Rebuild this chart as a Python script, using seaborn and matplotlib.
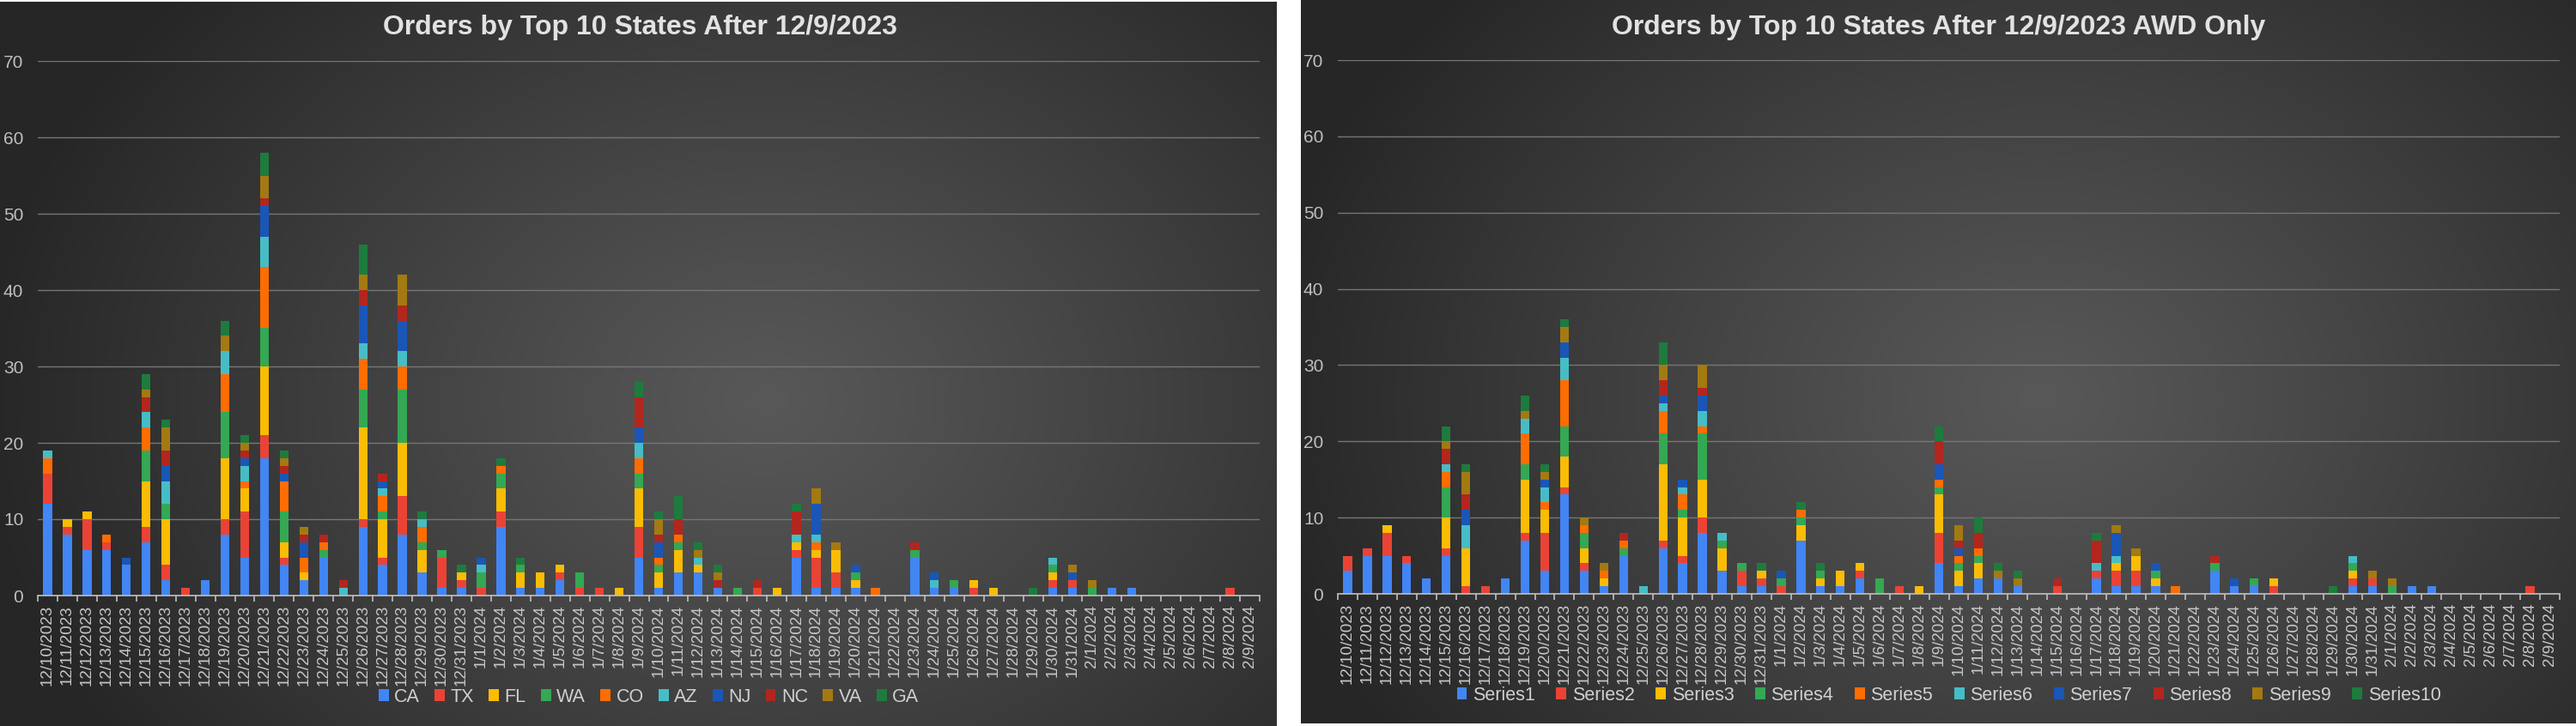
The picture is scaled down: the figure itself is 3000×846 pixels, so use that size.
import numpy as np
import pandas as pd
import matplotlib
matplotlib.use("Agg")
import matplotlib.pyplot as plt
from matplotlib.patches import Patch
import seaborn as sns

# category axis: one bar per day
dates = [f"{d.month}/{d.day}/{d.year}" for d in pd.date_range("2023-12-10", "2024-02-09")]

# ---- left chart: orders by top 10 states ----
states = ["CA", "TX", "FL", "WA", "CO", "AZ", "NJ", "NC", "VA", "GA"]
CA = [12, 8, 6, 6, 4, 7, 2, 0, 2, 8,
      5, 18, 4, 2, 5, 0, 9, 4, 8, 3,
      1, 1, 0, 9, 1, 1, 2, 0, 0, 0,
      5, 1, 3, 3, 1, 0, 0, 0, 5, 1,
      1, 1, 0, 0, 5, 1, 1, 0, 0, 0,
      0, 1, 1, 0, 1, 1, 0, 0, 0, 0,
      0, 0]
TX = [4, 1, 4, 1, 0, 2, 2, 1, 0, 2,
      6, 3, 1, 0, 0, 0, 1, 1, 5, 0,
      4, 1, 1, 2, 0, 0, 1, 1, 1, 0,
      4, 0, 0, 0, 0, 0, 1, 0, 1, 4,
      2, 0, 0, 0, 0, 0, 0, 1, 0, 0,
      0, 1, 1, 0, 0, 0, 0, 0, 0, 0,
      1, 0]
FL = [0, 1, 1, 0, 0, 6, 6, 0, 0, 8,
      3, 9, 2, 1, 0, 0, 12, 5, 7, 3,
      0, 1, 0, 3, 2, 2, 1, 0, 0, 1,
      5, 2, 3, 1, 0, 0, 0, 1, 1, 1,
      3, 1, 0, 0, 0, 0, 0, 1, 1, 0,
      0, 1, 0, 0, 0, 0, 0, 0, 0, 0,
      0, 0]
WA = [0, 0, 0, 0, 0, 4, 2, 0, 0, 6,
      0, 5, 4, 0, 1, 0, 5, 1, 7, 1,
      1, 0, 2, 2, 1, 0, 0, 2, 0, 0,
      2, 1, 1, 0, 0, 1, 0, 0, 0, 0,
      0, 1, 0, 0, 1, 0, 1, 0, 0, 0,
      0, 1, 0, 1, 0, 0, 0, 0, 0, 0,
      0, 0]
CO = [2, 0, 0, 1, 0, 3, 0, 0, 0, 5,
      1, 8, 4, 2, 1, 0, 4, 2, 3, 2,
      0, 0, 0, 1, 0, 0, 0, 0, 0, 0,
      2, 1, 1, 0, 0, 0, 0, 0, 0, 1,
      0, 0, 1, 0, 0, 0, 0, 0, 0, 0,
      0, 0, 0, 0, 0, 0, 0, 0, 0, 0,
      0, 0]
AZ = [1, 0, 0, 0, 0, 2, 3, 0, 0, 3,
      2, 4, 0, 0, 0, 1, 2, 1, 2, 1,
      0, 0, 1, 0, 0, 0, 0, 0, 0, 0,
      2, 0, 0, 1, 0, 0, 0, 0, 1, 1,
      0, 0, 0, 0, 0, 1, 0, 0, 0, 0,
      0, 1, 0, 0, 0, 0, 0, 0, 0, 0,
      0, 0]
NJ = [0, 0, 0, 0, 1, 0, 2, 0, 0, 0,
      1, 4, 1, 2, 0, 0, 5, 1, 4, 0,
      0, 0, 1, 0, 0, 0, 0, 0, 0, 0,
      2, 2, 0, 0, 0, 0, 0, 0, 0, 4,
      0, 1, 0, 0, 0, 1, 0, 0, 0, 0,
      0, 0, 1, 0, 0, 0, 0, 0, 0, 0,
      0, 0]
NC = [0, 0, 0, 0, 0, 2, 2, 0, 0, 0,
      1, 1, 1, 1, 1, 1, 2, 1, 2, 0,
      0, 0, 0, 0, 0, 0, 0, 0, 0, 0,
      4, 1, 2, 0, 1, 0, 1, 0, 3, 0,
      0, 0, 0, 0, 1, 0, 0, 0, 0, 0,
      0, 0, 0, 0, 0, 0, 0, 0, 0, 0,
      0, 0]
VA = [0, 0, 0, 0, 0, 1, 3, 0, 0, 2,
      1, 3, 1, 1, 0, 0, 2, 0, 4, 0,
      0, 0, 0, 0, 0, 0, 0, 0, 0, 0,
      0, 2, 0, 1, 1, 0, 0, 0, 0, 2,
      1, 0, 0, 0, 0, 0, 0, 0, 0, 0,
      0, 0, 1, 1, 0, 0, 0, 0, 0, 0,
      0, 0]
GA = [0, 0, 0, 0, 0, 2, 1, 0, 0, 2,
      1, 3, 1, 0, 0, 0, 4, 0, 0, 1,
      0, 1, 0, 1, 1, 0, 0, 0, 0, 0,
      2, 1, 3, 1, 1, 0, 0, 0, 1, 0,
      0, 0, 0, 0, 0, 0, 0, 0, 0, 0,
      1, 0, 0, 0, 0, 0, 0, 0, 0, 0,
      0, 0]

# ---- right chart: AWD only ----
series_names = ["Series1", "Series2", "Series3", "Series4", "Series5",
                "Series6", "Series7", "Series8", "Series9", "Series10"]
S1 = [3, 5, 5, 4, 2, 5, 0, 0, 2, 7,
      3, 13, 3, 1, 5, 0, 6, 4, 8, 3,
      1, 1, 0, 7, 1, 1, 2, 0, 0, 0,
      4, 1, 2, 2, 1, 0, 0, 0, 2, 1,
      1, 1, 0, 0, 3, 1, 1, 0, 0, 0,
      0, 1, 1, 0, 1, 1, 0, 0, 0, 0,
      0, 0]
S2 = [2, 1, 3, 1, 0, 1, 1, 1, 0, 1,
      5, 1, 1, 0, 0, 0, 1, 1, 2, 0,
      2, 1, 1, 0, 0, 0, 1, 0, 1, 0,
      4, 0, 0, 0, 0, 0, 1, 0, 1, 2,
      2, 0, 0, 0, 0, 0, 0, 1, 0, 0,
      0, 1, 1, 0, 0, 0, 0, 0, 0, 0,
      1, 0]
S3 = [0, 0, 1, 0, 0, 4, 5, 0, 0, 7,
      3, 4, 2, 1, 0, 0, 10, 5, 5, 3,
      0, 1, 0, 2, 1, 2, 1, 0, 0, 1,
      5, 2, 2, 0, 0, 0, 0, 0, 0, 1,
      2, 1, 0, 0, 0, 0, 0, 1, 0, 0,
      0, 1, 0, 0, 0, 0, 0, 0, 0, 0,
      0, 0]
S4 = [0, 0, 0, 0, 0, 4, 0, 0, 0, 2,
      0, 4, 2, 0, 1, 0, 4, 1, 6, 1,
      1, 0, 1, 1, 1, 0, 0, 2, 0, 0,
      1, 1, 1, 0, 0, 0, 0, 0, 0, 0,
      0, 1, 0, 0, 1, 0, 1, 0, 0, 0,
      0, 1, 0, 1, 0, 0, 0, 0, 0, 0,
      0, 0]
S5 = [0, 0, 0, 0, 0, 2, 0, 0, 0, 4,
      1, 6, 1, 1, 1, 0, 3, 2, 1, 0,
      0, 0, 0, 1, 0, 0, 0, 0, 0, 0,
      1, 1, 1, 0, 0, 0, 0, 0, 0, 0,
      0, 0, 1, 0, 0, 0, 0, 0, 0, 0,
      0, 0, 0, 0, 0, 0, 0, 0, 0, 0,
      0, 0]
S6 = [0, 0, 0, 0, 0, 1, 3, 0, 0, 2,
      2, 3, 0, 0, 0, 1, 1, 1, 2, 1,
      0, 0, 0, 0, 0, 0, 0, 0, 0, 0,
      0, 0, 0, 0, 0, 0, 0, 0, 1, 1,
      0, 0, 0, 0, 0, 0, 0, 0, 0, 0,
      0, 1, 0, 0, 0, 0, 0, 0, 0, 0,
      0, 0]
S7 = [0, 0, 0, 0, 0, 0, 2, 0, 0, 0,
      1, 2, 0, 0, 0, 0, 1, 1, 2, 0,
      0, 0, 1, 0, 0, 0, 0, 0, 0, 0,
      2, 1, 0, 0, 0, 0, 0, 0, 0, 3,
      0, 1, 0, 0, 0, 1, 0, 0, 0, 0,
      0, 0, 0, 0, 0, 0, 0, 0, 0, 0,
      0, 0]
S8 = [0, 0, 0, 0, 0, 2, 2, 0, 0, 0,
      0, 0, 0, 0, 1, 0, 2, 0, 1, 0,
      0, 0, 0, 0, 0, 0, 0, 0, 0, 0,
      3, 1, 2, 0, 0, 0, 1, 0, 3, 0,
      0, 0, 0, 0, 1, 0, 0, 0, 0, 0,
      0, 0, 0, 0, 0, 0, 0, 0, 0, 0,
      0, 0]
S9 = [0, 0, 0, 0, 0, 1, 3, 0, 0, 1,
      1, 2, 1, 1, 0, 0, 2, 0, 3, 0,
      0, 0, 0, 0, 0, 0, 0, 0, 0, 0,
      0, 2, 0, 1, 1, 0, 0, 0, 0, 1,
      1, 0, 0, 0, 0, 0, 0, 0, 0, 0,
      0, 0, 1, 1, 0, 0, 0, 0, 0, 0,
      0, 0]
S10 = [0, 0, 0, 0, 0, 2, 1, 0, 0, 2,
       1, 1, 0, 0, 0, 0, 3, 0, 0, 0,
       0, 1, 0, 1, 1, 0, 0, 0, 0, 0,
       2, 0, 2, 1, 1, 0, 0, 0, 1, 0,
       0, 0, 0, 0, 0, 0, 0, 0, 0, 0,
       1, 0, 0, 0, 0, 0, 0, 0, 0, 0,
       0, 0]

colors = ["#4285F4", "#EA4335", "#FBBC04", "#34A853", "#FF6D01",
          "#46BDC6", "#1A56B8", "#B3261E", "#A37A12", "#1E7B3E"]

sns.set_theme(style="dark")
plt.rcParams['font.family'] = ['Liberation Sans', 'DejaVu Sans']

W, H = 3000, 846
fig = plt.figure(figsize=(W / 100, H / 100), dpi=100)

# dark panels with a soft radial glow, white gap between them
yy, xx = np.mgrid[0:H, 0:W]
img = np.ones((H, W, 3))
center_c = np.array([88, 88, 88]) / 255
edge_c = np.array([38, 38, 38]) / 255


def paint_panel(x0, x1, y0, y1, cxf, cyf):
    w, h = x1 - x0, y1 - y0
    cx, cy = x0 + cxf * w, y0 + cyf * h
    sub = (slice(y0, y1), slice(x0, x1))
    d = np.sqrt(((xx[sub] - cx) / (0.62 * w)) ** 2 + ((yy[sub] - cy) / (0.85 * h)) ** 2)
    t = np.clip(d, 0, 1) ** 1.1
    img[sub] = center_c + (edge_c - center_c) * t[..., None]


paint_panel(0, 1487, 2, 846, 0.60, 0.55)
paint_panel(1515, 3000, 0, 843, 0.58, 0.55)
bg = fig.add_axes([0, 0, 1, 1], zorder=-5)
bg.imshow(img, aspect="auto", interpolation="bilinear")
bg.axis("off")


def draw_chart(rect, names, values, title, title_x, colspace):
    ax = fig.add_axes(rect)
    ax.set_facecolor("none")
    long = pd.DataFrame({"date": np.repeat(dates, len(names)),
                         "series": names * len(dates),
                         "orders": np.array(values).T.ravel()})
    sns.histplot(data=long, x="date", weights="orders", hue="series",
                 hue_order=names[::-1], multiple="stack", discrete=True,
                 shrink=0.45, palette=dict(zip(names, colors)), alpha=1,
                 linewidth=0, legend=False, ax=ax)
    ax.set_xlim(-0.5, len(dates) - 0.5)
    ax.set_ylim(0, 70)
    ax.set_yticks(range(0, 71, 10))
    ax.set_xticks(range(len(dates)))
    ax.set_xticklabels(dates, rotation=90)
    ax.set_xticks(np.arange(-0.5, len(dates), 1), minor=True)
    ax.tick_params(axis="x", which="major", length=0, pad=8, labelsize=13.5, colors="#c8c8c8")
    ax.tick_params(axis="x", which="minor", length=5, width=1.2, color="#bfbfbf", bottom=True)
    ax.tick_params(axis="y", length=0, pad=12, labelsize=15, colors="#bfbfbf")
    ax.grid(axis="y", color="#767676", linewidth=1.0)
    ax.grid(axis="x", visible=False)
    ax.set_axisbelow(True)
    for s in ["top", "left", "right"]:
        ax.spines[s].set_visible(False)
    ax.spines["bottom"].set_color("#bfbfbf")
    ax.spines["bottom"].set_linewidth(1.2)
    ax.set_xlabel("")
    ax.set_ylabel("")
    handles = [Patch(facecolor=c, edgecolor="none") for c in colors]
    ax.legend(handles, names, ncol=10, loc="center", bbox_to_anchor=(0.5, -0.19),
              frameon=False, fontsize=15.5, labelcolor="#d0d0d0",
              handlelength=0.55, handleheight=0.65, handletextpad=0.3, columnspacing=colspace)
    fig.text(title_x, 1 - 32 / H, title, ha="center", va="center",
             fontsize=23, fontweight="bold", color="#e2e2e2")
    return ax


draw_chart([44 / W, 1 - 694 / H, 1423 / W, 623 / H], states,
           [CA, TX, FL, WA, CO, AZ, NJ, NC, VA, GA],
           "Orders by Top 10 States After 12/9/2023", 745 / W, 0.8)
draw_chart([1558 / W, 1 - 692 / H, 1423 / W, 622 / H], series_names,
           [S1, S2, S3, S4, S5, S6, S7, S8, S9, S10],
           "Orders by Top 10 States After 12/9/2023 AWD Only", 2258 / W, 1.15)

fig.savefig("out.png", dpi=100)
